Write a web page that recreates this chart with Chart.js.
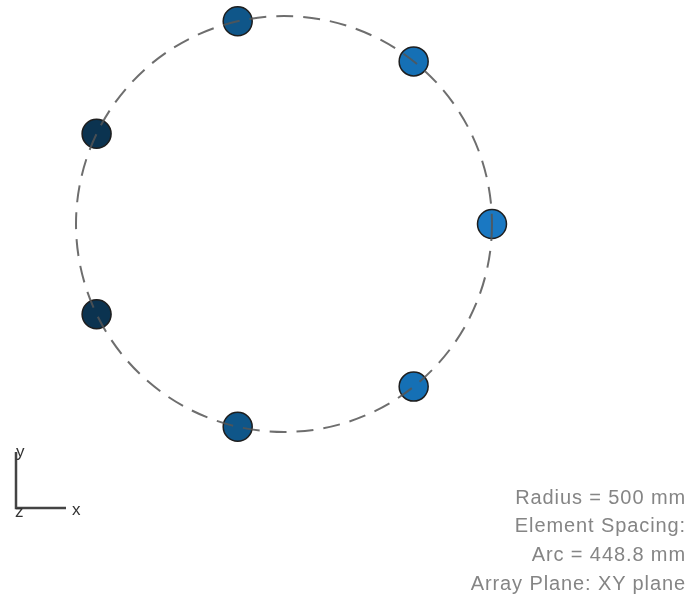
<!DOCTYPE html>
<html>
<head>
<meta charset="utf-8">
<script src="https://cdn.jsdelivr.net/npm/chart.js@4/dist/chart.umd.min.js"></script>
<style>
  body { margin: 0; background: #fff; }
  #wrap { position: relative; width: 690px; height: 602px; font-family: "Liberation Sans", Arial, sans-serif; }
  #arrayChart { position: absolute; left: 0; top: 0; }
  .note { position: absolute; right: 4px; color: #858585; font-size: 20px; line-height: 22px; letter-spacing: 0.9px; text-align: right; white-space: nowrap; }
  .axl { position: absolute; color: #333; font-size: 17px; }
</style>
</head>
<body>
<div id="wrap">
  <canvas id="arrayChart" width="690" height="602"></canvas>
  <div class="axl" style="left:16px; top:442px;">y</div>
  <div class="axl" style="left:72px; top:500px;">x</div>
  <div class="axl" style="left:15px; top:502px;">z</div>
  <div class="note" style="top:486px;">Radius = 500 mm</div>
  <div class="note" style="top:514px;">Element Spacing:</div>
  <div class="note" style="top:543px;">Arc = 448.8 mm</div>
  <div class="note" style="top:572px;">Array Plane: XY plane</div>
</div>
<script>
// element positions in mm
var elemX = [500, 311.7, -111.3, -450.5, -450.5, -111.3, 311.7];
var elemY = [0, 390.9, 487.5, 216.9, -216.9, -487.5, -390.9];
var elemColors = ["#1a78c2", "#1570b5", "#0f5689", "#0b3350", "#0b3350", "#0f5689", "#1570b5"];
var radiusMM = 500;

var ctx = document.getElementById("arrayChart");

var points = [];
for (var i = 0; i < elemX.length; i++) {
    points.push({x: elemX[i], y: elemY[i]});
}

// dashed ring goes on top of the markers
var ringPlugin = {
    id: 'ring',
    afterDatasetsDraw: function(chart) {
        var c = chart.ctx;
        var sx = chart.scales.x, sy = chart.scales.y;
        var cx = sx.getPixelForValue(0);
        var cy = sy.getPixelForValue(0);
        var r = sx.getPixelForValue(radiusMM) - cx;
        c.save();
        c.strokeStyle = "rgba(85,85,85,0.85)";
        c.lineWidth = 2;
        c.setLineDash([17, 10]);
        c.beginPath();
        c.arc(cx, cy, r, 0, Math.PI * 2);
        c.stroke();
        c.restore();

        // little axis triad bottom-left
        c.save();
        c.strokeStyle = "#444";
        c.lineWidth = 2.5;
        c.setLineDash([]);
        c.beginPath();
        c.moveTo(16, 452);
        c.lineTo(16, 508);
        c.lineTo(66, 508);
        c.stroke();
        c.restore();
    }
};

var arrayChart = new Chart(ctx, {
    type: 'scatter',
    data: {
        datasets: [{
            label: 'Elements',
            data: points,
            pointRadius: 14.5,
            pointHoverRadius: 14.5,
            pointBackgroundColor: elemColors,
            pointBorderColor: "#1e1e1e",
            pointBorderWidth: 1.5
        }]
    },
    options: {
        responsive: false,
        animation: false,
        layout: { padding: 0, autoPadding: false },
        plugins: {
            legend: { display: false },
            tooltip: { enabled: false }
        },
        scales: {
            x: { type: 'linear', min: -682.7, max: 976, display: false },
            y: { type: 'linear', min: -908.7, max: 538.5, display: false }
        }
    },
    plugins: [ringPlugin]
});
</script>
</body>
</html>
